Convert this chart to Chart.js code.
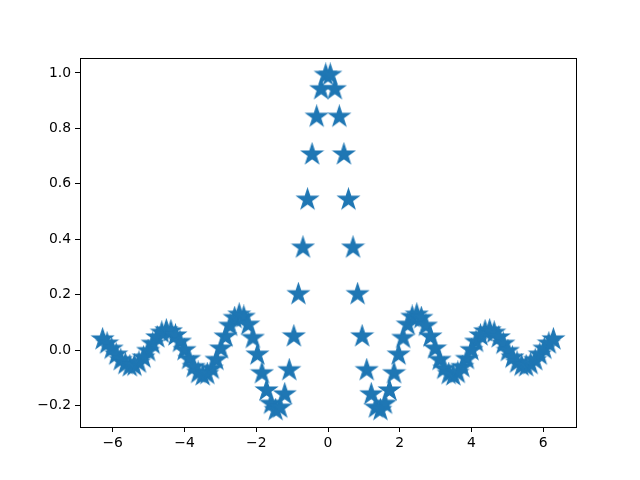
<!DOCTYPE html>
<html>
<head>
<meta charset="utf-8">
<script src="https://cdn.jsdelivr.net/npm/chart.js@4/dist/chart.umd.min.js"></script>
<style>
  html, body { margin: 0; padding: 0; background: #fff; }
</style>
</head>
<body>
<canvas id="chart" width="640" height="480"></canvas>
<script>
// x positions (100 evenly spaced samples)
const xValues = [
  -6.283, -6.156, -6.029, -5.902, -5.775, -5.649, -5.522, -5.395, -5.268, -5.141,
  -5.014, -4.887, -4.760, -4.633, -4.506, -4.379, -4.252, -4.125, -3.998, -3.871,
  -3.745, -3.618, -3.491, -3.364, -3.237, -3.110, -2.983, -2.856, -2.729, -2.602,
  -2.475, -2.348, -2.222, -2.095, -1.968, -1.841, -1.714, -1.587, -1.460, -1.333,
  -1.206, -1.079, -0.952, -0.825, -0.698, -0.571, -0.444, -0.317, -0.190, -0.063,
  0.063, 0.190, 0.317, 0.444, 0.571, 0.698, 0.825, 0.952, 1.079, 1.206,
  1.333, 1.460, 1.587, 1.714, 1.841, 1.968, 2.095, 2.222, 2.348, 2.475,
  2.602, 2.729, 2.856, 2.983, 3.110, 3.237, 3.364, 3.491, 3.618, 3.745,
  3.871, 3.998, 4.125, 4.252, 4.379, 4.506, 4.633, 4.760, 4.887, 5.014,
  5.141, 5.268, 5.395, 5.522, 5.649, 5.775, 5.902, 6.029, 6.156, 6.283
];
// y values
const yValues = [
  0.039, 0.024, 0.005, -0.016, -0.036, -0.050, -0.058, -0.056, -0.045, -0.027,
  -0.003, 0.023, 0.046, 0.063, 0.071, 0.068, 0.053, 0.030, -0.000, -0.032,
  -0.061, -0.082, -0.091, -0.086, -0.067, -0.035, 0.006, 0.049, 0.088, 0.116,
  0.128, 0.120, 0.092, 0.044, -0.016, -0.083, -0.145, -0.193, -0.216, -0.207,
  -0.159, -0.072, 0.050, 0.202, 0.370, 0.543, 0.706, 0.842, 0.941, 0.993,
  0.993, 0.941, 0.842, 0.706, 0.543, 0.370, 0.202, 0.050, -0.072, -0.159,
  -0.207, -0.216, -0.193, -0.145, -0.083, -0.016, 0.044, 0.092, 0.120, 0.128,
  0.116, 0.088, 0.049, 0.006, -0.035, -0.067, -0.086, -0.091, -0.082, -0.061,
  -0.032, -0.000, 0.030, 0.053, 0.068, 0.071, 0.063, 0.046, 0.023, -0.003,
  -0.027, -0.045, -0.056, -0.058, -0.050, -0.036, -0.016, 0.005, 0.024, 0.039
];
const xTicks = [-6, -4, -2, 0, 2, 4, 6];
const yTicks = [-0.2, 0.0, 0.2, 0.4, 0.6, 0.8, 1.0];

const blue = '#1f77b4';
const fontFamily = '"DejaVu Sans", sans-serif';
const fontSize = 13.9;

// filled five-point star marker, like matplotlib '*'
function makeStar(r) {
  const size = Math.ceil(r * 2 + 4);
  const c = document.createElement('canvas');
  c.width = size;
  c.height = size;
  const g = c.getContext('2d');
  const inner = r * 0.381966;
  g.beginPath();
  for (let i = 0; i < 10; i++) {
    const rad = i % 2 === 0 ? r : inner;
    const a = -Math.PI / 2 + i * Math.PI / 5;
    const px = size / 2 + rad * Math.cos(a);
    const py = size / 2 + rad * Math.sin(a);
    if (i === 0) g.moveTo(px, py); else g.lineTo(px, py);
  }
  g.closePath();
  g.fillStyle = blue;
  g.fill();
  g.lineWidth = 1.4;
  g.lineJoin = 'miter';
  g.strokeStyle = blue;
  g.stroke();
  return c;
}
const star = makeStar(10.4);

const points = xValues.map((x, i) => ({ x: x, y: yValues[i] }));

function fmtMinus(s) {
  return s.replace('-', '\u2212');
}

// frame on all four sides
const framePlugin = {
  id: 'frame',
  afterDraw(chart) {
    const a = chart.chartArea;
    const ctx = chart.ctx;
    ctx.save();
    ctx.strokeStyle = '#000';
    ctx.lineWidth = 1;
    ctx.strokeRect(Math.round(a.left) + 0.5, Math.round(a.top) + 0.5,
      Math.round(a.right - a.left), Math.round(a.bottom - a.top));
    ctx.restore();
  }
};

const ctx = document.getElementById('chart').getContext('2d');
new Chart(ctx, {
  type: 'scatter',
  data: {
    datasets: [{
      data: points,
      pointStyle: star,
      pointRadius: 10,
      pointHoverRadius: 10,
      showLine: false,
      clip: false
    }]
  },
  options: {
    responsive: false,
    animation: false,
    events: [],
    layout: { padding: { left: 0, top: 58, right: 64, bottom: 0 } },
    plugins: {
      legend: { display: false },
      tooltip: { enabled: false }
    },
    scales: {
      x: {
        type: 'linear',
        min: -6.912,
        max: 6.912,
        afterBuildTicks: s => { s.ticks = xTicks.map(v => ({ value: v })); },
        afterFit: s => { s.height = 53; },
        border: { display: true, color: '#000', width: 1 },
        grid: { display: true, drawOnChartArea: false, tickLength: 5, tickColor: '#000', tickWidth: 1 },
        ticks: {
          color: '#000',
          padding: 3,
          maxRotation: 0,
          font: { family: fontFamily, size: fontSize },
          callback: v => fmtMinus(String(v))
        }
      },
      y: {
        type: 'linear',
        min: -0.2768,
        max: 1.0539,
        afterBuildTicks: s => { s.ticks = yTicks.map(v => ({ value: v })); },
        afterFit: s => { s.width = 80; },
        border: { display: true, color: '#000', width: 1 },
        grid: { display: true, drawOnChartArea: false, tickLength: 5, tickColor: '#000', tickWidth: 1 },
        ticks: {
          color: '#000',
          padding: 4,
          font: { family: fontFamily, size: fontSize },
          callback: v => fmtMinus(v.toFixed(1))
        }
      }
    }
  },
  plugins: [framePlugin]
});
</script>
</body>
</html>
